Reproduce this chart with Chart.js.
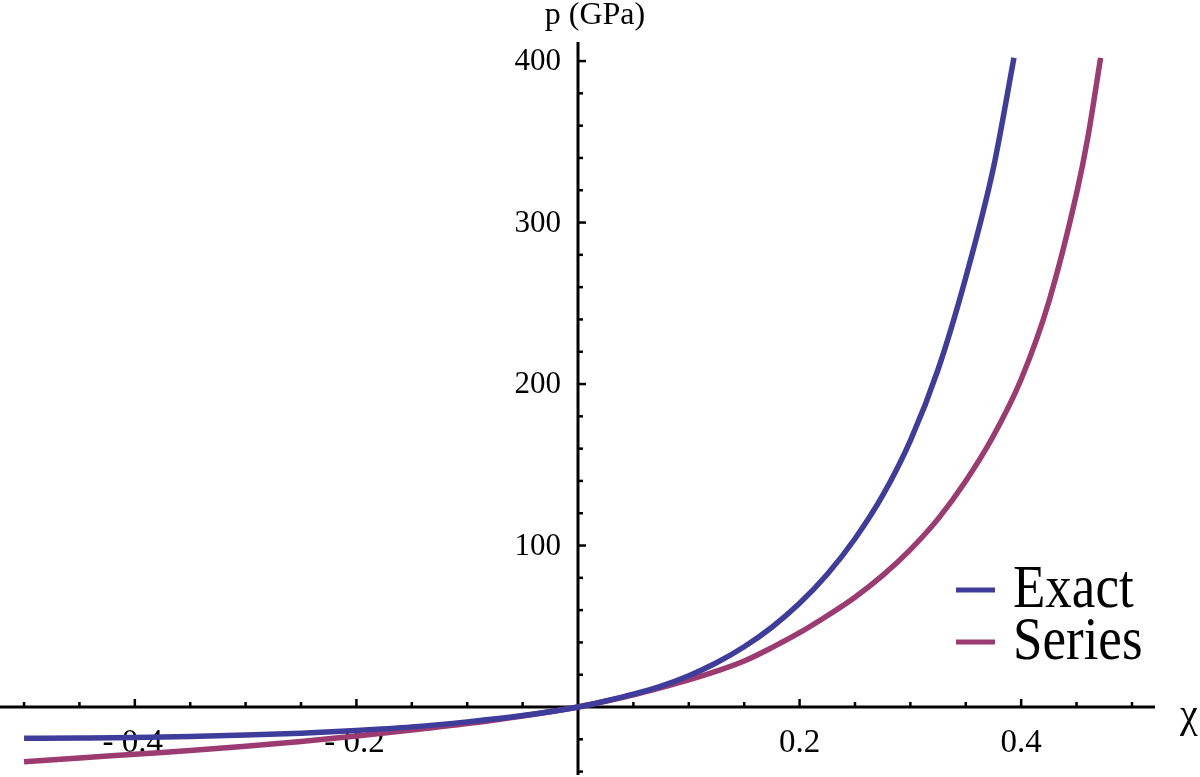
<!DOCTYPE html>
<html>
<head>
<meta charset="utf-8">
<script src="https://cdn.jsdelivr.net/npm/chart.js@4.4.1/dist/chart.umd.min.js"></script>
<style>
html,body{margin:0;padding:0;background:#fff;}
#wrap{width:1200px;height:777px;}
</style>
</head>
<body>
<div id="wrap"><canvas id="c" width="1200" height="777"></canvas></div>
<script>
// ---- data ----
const seriesNames = ['Exact', 'Series'];
const exactChi = [-0.5,-0.45,-0.4,-0.35,-0.3,-0.25,-0.2,-0.15,-0.1,-0.05,0,0.025,0.05,0.075,0.1,0.125,0.15,0.175,0.2,0.225,0.25,0.275,0.3,0.325,0.35,0.375,0.3935];
const exactP   = [-19.4,-19.2,-18.9,-18.3,-17.4,-16.2,-14.5,-12.3,-9.2,-5.3,0,3.8,8,13,19.4,27.4,37.3,49.4,64.2,82.2,104.2,131,165,209,266,334,402];
const seriesChi = [-0.5,-0.45,-0.4,-0.35,-0.3,-0.25,-0.2,-0.15,-0.1,-0.05,0,0.025,0.05,0.075,0.1,0.125,0.15,0.175,0.2,0.225,0.25,0.275,0.3,0.325,0.35,0.375,0.4,0.425,0.45,0.46,0.4717];
const seriesP   = [-33.9,-31.6,-29.2,-27,-24.3,-21.3,-18,-14.3,-10.3,-5.6,0,3.6,7.5,12,16.8,22.2,28.5,36.8,46,56.5,68,81.5,97.5,116.5,140,168,203,251,318,352,402];
const xMajorTicks = [-0.4,-0.2,0.2,0.4];
const xTickLabels = ['- 0.4','- 0.2','0.2','0.4'];
const xMinorTicks = [-0.5,-0.45,-0.35,-0.3,-0.25,-0.15,-0.1,-0.05,0.05,0.1,0.15,0.25,0.3,0.35,0.45,0.5];
const yMajorTicks = [100,200,300,400];
const yTickLabels = ['100','200','300','400'];
const yMinorTicks = [-40,-20,20,40,60,80,120,140,160,180,220,240,260,280,320,340,360,380];
const xAxisTitle = 'χ';
const yAxisTitle = 'p (GPa)';

const colors = ['rgb(62,61,155)', 'rgb(155,59,113)'];

function pts(xs, ys){ return xs.map((x,i)=>({x:x, y:ys[i]})); }

const axesPlugin = {
  id: 'axesPlugin',
  beforeDatasetsDraw(chart){
    const ctx = chart.ctx, xs = chart.scales.x, ys = chart.scales.y, ca = chart.chartArea;
    const x0 = xs.getPixelForValue(0), y0 = ys.getPixelForValue(0);
    ctx.save();
    ctx.strokeStyle = '#000'; ctx.lineCap = 'butt';
    ctx.lineWidth = 3;
    ctx.beginPath(); ctx.moveTo(ca.left, y0); ctx.lineTo(ca.right, y0); ctx.stroke();
    ctx.beginPath(); ctx.moveTo(x0, ca.top); ctx.lineTo(x0, ca.bottom); ctx.stroke();
    ctx.lineWidth = 2.5;
    xMinorTicks.forEach(v=>{const p=xs.getPixelForValue(v); ctx.beginPath(); ctx.moveTo(p,y0); ctx.lineTo(p,y0-5); ctx.stroke();});
    xMajorTicks.forEach(v=>{const p=xs.getPixelForValue(v); ctx.beginPath(); ctx.moveTo(p,y0); ctx.lineTo(p,y0-8); ctx.stroke();});
    yMinorTicks.forEach(v=>{const p=ys.getPixelForValue(v); ctx.beginPath(); ctx.moveTo(x0,p); ctx.lineTo(x0+5,p); ctx.stroke();});
    yMajorTicks.forEach(v=>{const p=ys.getPixelForValue(v); ctx.beginPath(); ctx.moveTo(x0,p); ctx.lineTo(x0+8,p); ctx.stroke();});
    ctx.fillStyle = '#000';
    ctx.font = '33px "Liberation Serif"';
    ctx.textAlign = 'center'; ctx.textBaseline = 'alphabetic';
    xMajorTicks.forEach((v,i)=>{ ctx.fillText(xTickLabels[i], xs.getPixelForValue(v) - (v<0?2:0), y0 + 45); });
    ctx.font = '31px "Liberation Serif"';
    ctx.textAlign = 'right'; ctx.textBaseline = 'middle';
    yMajorTicks.forEach((v,i)=>{ ctx.fillText(yTickLabels[i], x0 - 17, ys.getPixelForValue(v) + 1); });
    ctx.restore();
  },
  afterDraw(chart){
    const ctx = chart.ctx, xs = chart.scales.x, ys = chart.scales.y, ca = chart.chartArea;
    const x0 = xs.getPixelForValue(0), y0 = ys.getPixelForValue(0);
    ctx.save();
    ctx.fillStyle = '#000';
    ctx.font = '32px "Liberation Serif"';
    ctx.textAlign = 'center'; ctx.textBaseline = 'alphabetic';
    ctx.fillText(yAxisTitle, x0 + 17, 24);
    ctx.font = '40px "Liberation Serif"';
    ctx.textAlign = 'left';
    ctx.fillText(xAxisTitle, ca.right + 25, y0 + 20);
    // legend
    chart.data.datasets.forEach((ds,i)=>{
      const ly = 590 + i*52;
      ctx.strokeStyle = ds.borderColor; ctx.lineWidth = 5; ctx.lineCap = 'butt';
      ctx.beginPath(); ctx.moveTo(956, ly); ctx.lineTo(995, ly); ctx.stroke();
      ctx.save();
      ctx.translate(1013, ly + 17);
      ctx.scale(1, 1.14);
      ctx.font = '53px "Liberation Serif"';
      ctx.textAlign = 'left'; ctx.textBaseline = 'alphabetic';
      ctx.fillStyle = '#000';
      ctx.fillText(ds.label, 0, 0);
      ctx.restore();
    });
    ctx.restore();
  }
};

new Chart(document.getElementById('c'), {
  type: 'line',
  data: {
    datasets: [
      {label: seriesNames[0], data: pts(exactChi, exactP), borderColor: colors[0], borderWidth: 5.5, pointRadius: 0, fill: false, cubicInterpolationMode: 'monotone', borderCapStyle: 'butt'},
      {label: seriesNames[1], data: pts(seriesChi, seriesP), borderColor: colors[1], borderWidth: 5.5, pointRadius: 0, fill: false, cubicInterpolationMode: 'monotone', borderCapStyle: 'butt'}
    ]
  },
  options: {
    responsive: false,
    devicePixelRatio: 1,
    animation: false,
    events: [],
    layout: {padding: {left: 0, right: 45, top: 42, bottom: 2}},
    plugins: {legend: {display: false}, tooltip: {enabled: false}},
    scales: {
      x: {type: 'linear', min: -0.5217, max: 0.5208, display: false},
      y: {type: 'linear', min: -42.1, max: 411.8, display: false}
    }
  },
  plugins: [axesPlugin]
});
</script>
</body>
</html>
